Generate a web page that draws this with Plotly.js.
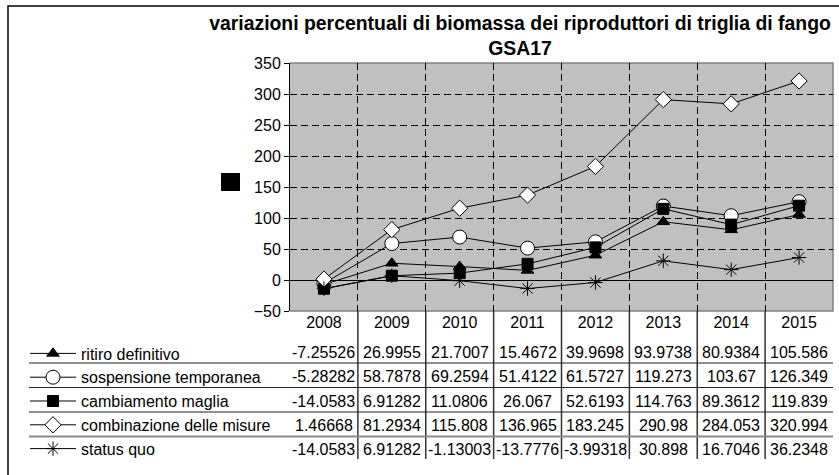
<!DOCTYPE html>
<html>
<head>
<meta charset="utf-8">
<script src="https://cdn.plot.ly/plotly-3.0.1.min.js"></script>
<style>
html,body{margin:0;padding:0;background:#fff;}
#chart{width:839px;height:475px;}
</style>
</head>
<body>
<div id="chart"></div>
<script>
// ---- data ----
var years = ['2008', '2009', '2010', '2011', '2012', '2013', '2014', '2015'];
var seriesNames = ['ritiro definitivo', 'sospensione temporanea', 'cambiamento maglia', 'combinazione delle misure', 'status quo'];
var ritiro = [-7.25526, 26.9955, 21.7007, 15.4672, 39.9698, 93.9738, 80.9384, 105.586];
var sospensione = [-5.28282, 58.7878, 69.2594, 51.4122, 61.5727, 119.273, 103.67, 126.349];
var cambiamento = [-14.0583, 6.91282, 11.0806, 26.067, 52.6193, 114.763, 89.3612, 119.839];
var combinazione = [1.46668, 81.2934, 115.808, 136.965, 183.245, 290.98, 284.053, 320.994];
var statusQuo = [-14.0583, 6.91282, -1.13003, -13.7776, -3.99318, 30.898, 16.7046, 36.2348];
var yTicks = [-50, 0, 50, 100, 150, 200, 250, 300, 350];

var allSeries = [ritiro, sospensione, cambiamento, combinazione, statusQuo];
var markerStyles = [
  {symbol: 'triangle-up', size: 11, color: '#000', line: {color: '#000', width: 1}},
  {symbol: 'circle', size: 14, color: '#fff', line: {color: '#000', width: 1}},
  {symbol: 'square', size: 11, color: '#000', line: {color: '#000', width: 1}},
  {symbol: 'diamond', size: 12.5, color: '#fff', line: {color: '#000', width: 1}},
  {symbol: 'asterisk-open', size: 12, color: '#000', line: {color: '#000', width: 1}}
];

var FONT = 'Liberation Sans, Arial, Helvetica, sans-serif';

var traces = allSeries.map(function (vals, k) {
  return {
    type: 'scatter',
    mode: 'lines+markers',
    name: seriesNames[k],
    x: years,
    y: vals,
    line: {color: '#000', width: 1},
    marker: markerStyles[k],
    cliponaxis: false
  };
});

// pixel geometry helpers (layout only)
var W = 839, H = 475, L = 290, R = 833, T = 63, B = 311;
function px(xp) { return (xp - L) / (R - L); }
function py(yp) { return (B - yp) / (B - T); }

var rowCenter0 = 352.5, rowStep = 24.3;

var annotations = [];
allSeries.forEach(function (vals, k) {
  vals.forEach(function (v, i) {
    annotations.push({
      xref: 'x', yref: 'paper',
      x: i, y: py(rowCenter0 + k * rowStep),
      text: String(v), showarrow: false,
      xanchor: 'center', yanchor: 'middle',
      font: {family: FONT, size: 16, color: '#000'}
    });
  });
});

var shapes = [];
// plot area border (top, right, bottom)
shapes.push({type: 'path', xref: 'paper', yref: 'paper', path: 'M0,1 L1,1 L1,0 L0,0',
  line: {color: '#808080', width: 1.5}, layer: 'between'});
// table column separators
for (var i = 0; i < years.length - 1; i++) {
  shapes.push({type: 'line', xref: 'x', yref: 'paper', x0: i + 0.5, x1: i + 0.5,
    y0: 0, y1: py(459), line: {color: '#333', width: 1.5}});
}
// table row separators
var rowLines = [363, 387.5, 412, 436.5];
rowLines.forEach(function (yy, k) {
  shapes.push({type: 'line', xref: 'paper', yref: 'paper', x0: px(29), x1: 1,
    y0: py(yy), y1: py(yy),
    line: {color: k === 3 ? '#8a8a8a' : '#222', width: k === 3 ? 2 : 1.2}});
});
// stray black square (legend key without text)
shapes.push({type: 'rect', xref: 'paper', yref: 'paper', x0: px(221), x1: px(240),
  y0: py(191), y1: py(173), fillcolor: '#000', line: {width: 0}});
// outer chart border (left & top visible)
shapes.push({type: 'path', xref: 'paper', yref: 'paper',
  path: 'M' + px(8) + ',' + py(485) + ' L' + px(8) + ',' + py(6) + ' L' + px(850) + ',' + py(6),
  line: {color: '#000', width: 1.5}});

var layout = {
  width: W, height: H,
  margin: {l: L, r: W - R, t: T, b: H - B, pad: 0},
  paper_bgcolor: '#fff',
  plot_bgcolor: '#C0C0C0',
  showlegend: true,
  legend: {
    x: px(25), y: py(336.5), xanchor: 'left', yanchor: 'top',
    xref: 'paper', yref: 'paper',
    bgcolor: 'rgba(0,0,0,0)', borderwidth: 0,
    font: {family: FONT, size: 16, color: '#000'},
    itemwidth: 46, tracegroupgap: 0, itemclick: false
  },
  title: {
    text: '<b>variazioni percentuali di biomassa dei riproduttori di triglia di fango<br>GSA17</b>',
    font: {family: FONT, size: 19.4, color: '#000'},
    xref: 'paper', x: px(520), xanchor: 'center',
    yref: 'container', y: 1 - 30 / H, yanchor: 'middle'
  },
  xaxis: {
    type: 'category',
    range: [-0.5, years.length - 0.5],
    tickson: 'boundaries',
    showgrid: true, gridcolor: '#000', gridwidth: 1, griddash: '7px,4px',
    ticks: '', showline: false, zeroline: false,
    tickfont: {family: FONT, size: 16, color: '#000'},
    fixedrange: true
  },
  yaxis: {
    range: [-50, 350],
    tickvals: yTicks,
    showgrid: true, gridcolor: '#000', gridwidth: 1, griddash: '7px,4px',
    zeroline: true, zerolinecolor: '#000', zerolinewidth: 1,
    showline: true, linecolor: '#000', linewidth: 1,
    ticks: 'outside', ticklen: 5, tickcolor: '#000', tickwidth: 1,
    tickfont: {family: FONT, size: 16, color: '#000'},
    fixedrange: true
  },
  annotations: annotations,
  shapes: shapes
};

Plotly.newPlot('chart', traces, layout, {staticPlot: true, displayModeBar: false});
</script>
</body>
</html>
